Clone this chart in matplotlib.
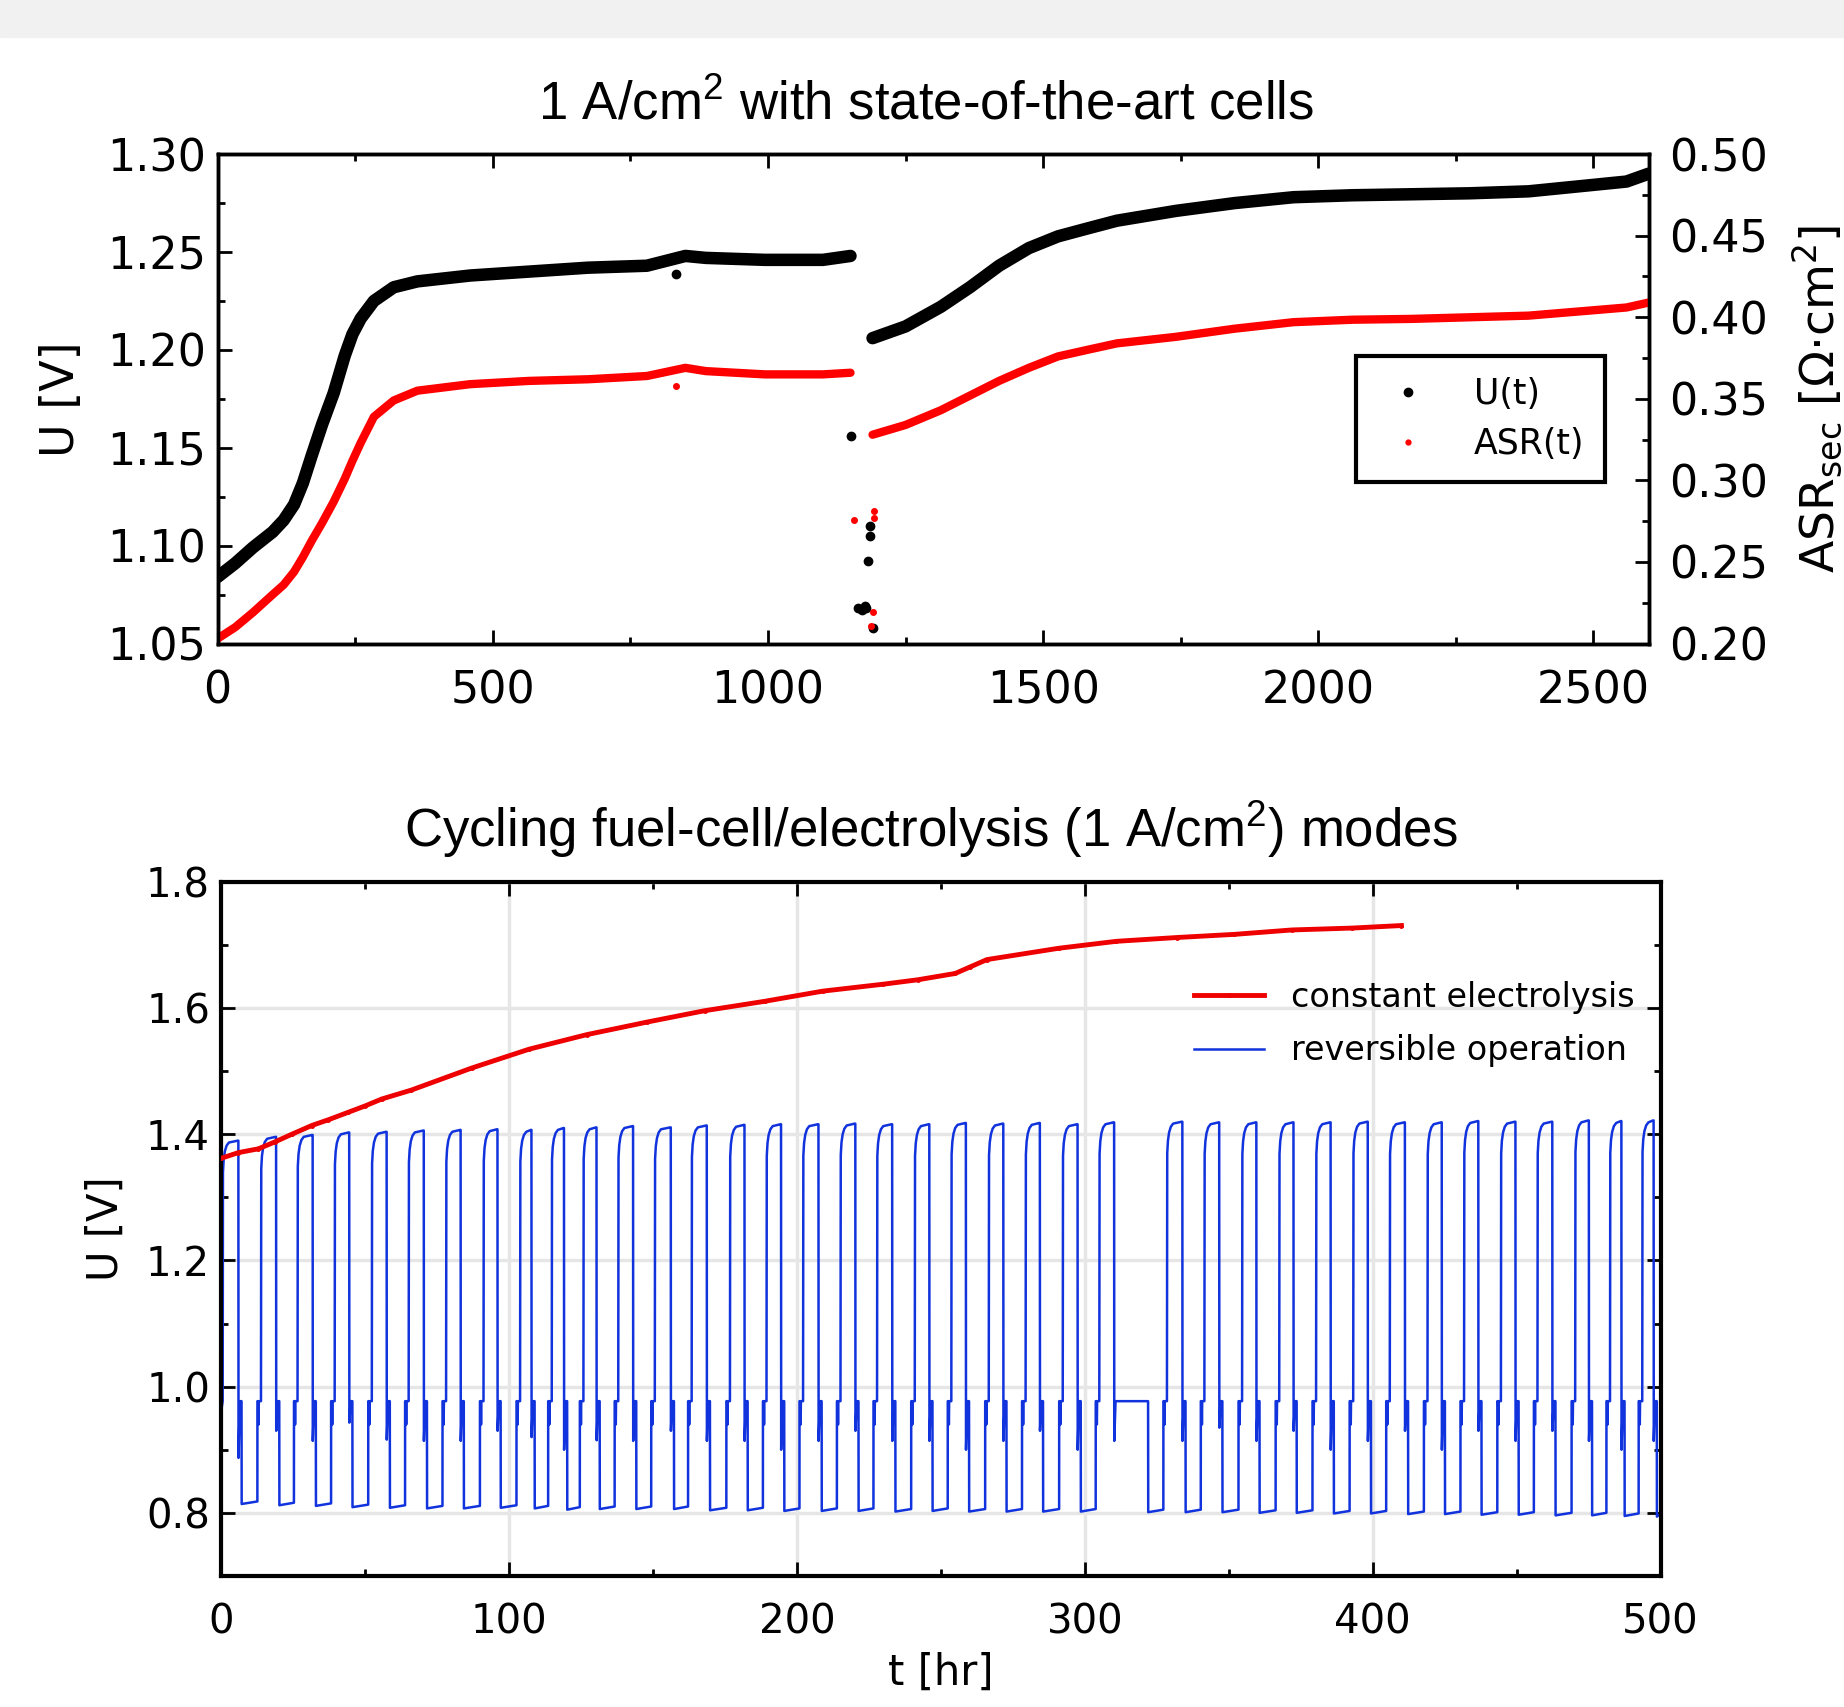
import matplotlib.pyplot as plt
from matplotlib.lines import Line2D
from matplotlib.patches import Rectangle
from matplotlib.ticker import MultipleLocator

# ---- top panel: 1 A/cm2, state-of-the-art cells ----
t_u = [0, 32, 64, 100, 120, 139, 155, 171, 190, 211, 231, 245, 260, 284, 320, 363, 459, 566, 673, 780, 850, 887,
       994, 1100, 1150,
       1190, 1250, 1314, 1367, 1420, 1474, 1527, 1580, 1634, 1741, 1848, 1955, 2062, 2169, 2275, 2382, 2489, 2560, 2600]
u_t = [1.084, 1.091, 1.099, 1.107, 1.113, 1.121, 1.132, 1.146, 1.162, 1.178, 1.197, 1.208, 1.216, 1.225, 1.232,
       1.235, 1.238, 1.240, 1.242, 1.243, 1.248, 1.247, 1.246, 1.246, 1.248,
       1.206, 1.212, 1.222, 1.232, 1.243, 1.252, 1.258, 1.262, 1.266, 1.271, 1.275, 1.278, 1.279, 1.2795, 1.280,
       1.281, 1.284, 1.286, 1.290]
asr_t = [0.203, 0.210, 0.219, 0.230, 0.236, 0.244, 0.253, 0.263, 0.274, 0.287, 0.301, 0.312, 0.323, 0.339, 0.349,
         0.355, 0.359, 0.361, 0.362, 0.364, 0.369, 0.367, 0.365, 0.365, 0.366,
         0.328, 0.334, 0.343, 0.352, 0.361, 0.369, 0.376, 0.380, 0.384, 0.388, 0.393, 0.397, 0.3985, 0.399, 0.400,
         0.401, 0.404, 0.406, 0.409]
gap_start = 25  # index where the second run starts

# stray points around the interruption
t_u_out = [833, 1150, 1164, 1170, 1176, 1179, 1181, 1186, 1186, 1190]
u_out = [1.2387, 1.156, 1.068, 1.067, 1.069, 1.068, 1.092, 1.105, 1.110, 1.058]
t_asr_out = [833, 1156, 1192, 1192, 1190, 1188]
asr_out = [0.358, 0.276, 0.277, 0.281, 0.2195, 0.211]

# ---- bottom panel: cycling fuel-cell / electrolysis ----
t_const = [0, 6, 12.9, 18.7, 24.5, 31.5, 37.2, 44.2, 50, 55.8, 66, 87, 107, 127, 148, 168, 189, 209, 230, 242,
           255, 260, 266, 291, 311, 332, 352, 372, 393, 410]
u_const = [1.362, 1.371, 1.377, 1.388, 1.400, 1.414, 1.423, 1.435, 1.445, 1.456, 1.470, 1.505, 1.535, 1.558, 1.578,
           1.596, 1.611, 1.627, 1.638, 1.645, 1.655, 1.665, 1.677, 1.695, 1.706, 1.712, 1.717, 1.724, 1.727, 1.731]

# per cycle: switch to electrolysis, switch back, peak voltage, fuel-cell voltage after
cyc_on = [-0.7, 12.6, 25.3, 38.2, 51.1, 63.9, 76.9, 89.9, 102.6, 113.6, 124.6, 136.7, 149.4, 162.2, 175.5,
          188.2, 200.9, 213.9, 226.6, 239.7, 252.4, 265.4, 278.2, 291.1, 303.8, 327.3, 340.3, 353.4, 366.3,
          379.1, 392.0, 404.7, 417.8, 430.5, 443.3, 456.0, 469.1, 481.2, 492.4]
cyc_off = [6.0, 19.1, 31.8, 44.5, 57.5, 70.4, 83.2, 96.0, 107.8, 119.1, 130.4, 143.1, 156.2, 168.7, 181.8,
           194.5, 207.5, 220.3, 233.1, 246.0, 258.7, 271.7, 284.4, 297.5, 310.2, 333.9, 346.7, 359.6, 372.5,
           385.4, 398.3, 411.2, 424.0, 436.7, 449.6, 462.4, 475.1, 486.4, 497.6]
cyc_peak = [1.390, 1.396, 1.399, 1.403, 1.404, 1.406, 1.407, 1.408, 1.407, 1.410, 1.411, 1.413, 1.411, 1.414,
            1.415, 1.416, 1.416, 1.417, 1.416, 1.416, 1.418, 1.417, 1.418, 1.416, 1.419, 1.420, 1.419, 1.419,
            1.419, 1.419, 1.420, 1.419, 1.419, 1.421, 1.420, 1.420, 1.422, 1.421, 1.422]
cyc_low = [0.818, 0.816, 0.815, 0.813, 0.812, 0.811, 0.811, 0.812, 0.811, 0.809, 0.810, 0.810, 0.810, 0.808,
           0.808, 0.807, 0.807, 0.807, 0.806, 0.807, 0.806, 0.806, 0.806, 0.806, 0.805, 0.805, 0.805, 0.804,
           0.804, 0.803, 0.803, 0.802, 0.802, 0.801, 0.801, 0.800, 0.800, 0.799, 0.798]
cyc_dip = [0.887, 0.930, 0.914, 0.943, 0.916, 0.914, 0.914, 0.930, 0.920, 0.900, 0.915, 0.914, 0.930, 0.914,
           0.914, 0.900, 0.914, 0.930, 0.914, 0.914, 0.900, 0.914, 0.930, 0.900, 0.914, 0.914, 0.935, 0.914,
           0.930, 0.900, 0.914, 0.930, 0.900, 0.930, 0.914, 0.930, 0.914, 0.900, 0.914]
hold_long = {24: 322.0}  # hold at ~0.975 V after cycle 25
u_oc = 0.977
u_notch = 0.94

rev_t, rev_u = [0.0], [0.96]
for i in range(len(cyc_on)):
    r, d, P, L = cyc_on[i], cyc_off[i], cyc_peak[i], cyc_low[i]
    prev_low = cyc_low[i - 1] if i > 0 else 0.96
    hold = hold_long.get(i, d + 1.1)
    seg = [(r, prev_low), (r + 0.02, u_oc), (r + 0.3, u_oc), (r + 0.4, u_notch), (r + 0.5, u_oc),
           (r + 1.25, u_oc), (r + 1.35, P - 0.05), (r + 1.6, P - 0.03), (r + 2.0, P - 0.017),
           (r + 2.6, P - 0.008), (r + 3.4, P - 0.003), (d - 0.2, P), (d, P), (d + 0.05, cyc_dip[i]),
           (d + 0.5, u_oc), (hold, u_oc), (hold + 0.05, L - 0.004)]
    for tt, uu in seg:
        if tt >= 0:
            rev_t.append(tt)
            rev_u.append(uu)
rev_t.append(500)
rev_u.append(cyc_low[-1])

fig = plt.figure(figsize=(18.44, 17.07), dpi=100)
fig.patches.append(Rectangle((0, 1 - 37 / 1707), 1, 37 / 1707, transform=fig.transFigure,
                             color='#f0f1f0', zorder=0))

title_font = dict(family='Liberation Sans', fontsize=38)

# top panel
ax1 = fig.add_axes([0.118, 0.623, 0.776, 0.2867])
ax2 = ax1.twinx()
ax1.plot(t_u[:gap_start], u_t[:gap_start], color='k', lw=9, solid_capstyle='round')
ax1.plot(t_u[gap_start:], u_t[gap_start:], color='k', lw=9, solid_capstyle='round')
ax1.plot(t_u_out, u_out, 'o', color='k', ms=6)
ax2.plot(t_u[:gap_start], asr_t[:gap_start], color='#ff0000', lw=6, solid_capstyle='round')
ax2.plot(t_u[gap_start:], asr_t[gap_start:], color='#ff0000', lw=6, solid_capstyle='round')
ax2.plot(t_asr_out, asr_out, 'o', color='#ff0000', ms=4)

ax1.set_xlim(0, 2600)
ax1.set_ylim(1.05, 1.30)
ax2.set_ylim(0.20, 0.50)
ax1.xaxis.set_major_locator(MultipleLocator(500))
ax1.xaxis.set_minor_locator(MultipleLocator(250))
ax1.yaxis.set_major_locator(MultipleLocator(0.05))
ax1.yaxis.set_minor_locator(MultipleLocator(0.025))
ax2.yaxis.set_major_locator(MultipleLocator(0.05))
ax2.yaxis.set_minor_locator(MultipleLocator(0.025))
ax1.yaxis.set_major_formatter(plt.FormatStrFormatter('%.2f'))
ax2.yaxis.set_major_formatter(plt.FormatStrFormatter('%.2f'))
ax1.tick_params(which='both', direction='in', top=True, right=False, width=2)
ax1.tick_params(which='major', length=10, labelsize=32)
ax1.tick_params(which='minor', length=5)
ax1.tick_params(axis='x', pad=19)
ax1.tick_params(axis='y', pad=8)
ax2.tick_params(which='both', direction='in', width=2)
ax2.tick_params(which='major', length=10, labelsize=32, pad=15)
ax2.tick_params(which='minor', length=5)
for ax in (ax1, ax2):
    for s in ax.spines.values():
        s.set_linewidth(2.5)
ax1.set_ylabel('U [V]', fontsize=33, va='center')
ax1.yaxis.set_label_coords(-0.109, 0.5)
ax2.set_ylabel('ASR$_\\mathregular{sec}$ [Ω·cm$^\\mathregular{2}$]', fontsize=34, va='center')
ax2.yaxis.set_label_coords(1.118, 0.5)
fig.text(0.502, 1 - 119 / 1707, '1 A/cm$^\\mathregular{2}$ with state-of-the-art cells',
         ha='center', va='baseline', **title_font)
handles = [Line2D([], [], ls='', marker='o', color='k', ms=6),
           Line2D([], [], ls='', marker='o', color='#ff0000', ms=3.5)]
leg = ax2.legend(handles, ['U(t)', 'ASR(t)'], loc='upper left', bbox_to_anchor=(0.7954, 0.587),
                 borderaxespad=0, fontsize=25, handlelength=1.8, handletextpad=1.0, borderpad=0.6,
                 labelspacing=0.45, fancybox=False, framealpha=1, edgecolor='k')
leg.get_frame().set_linewidth(3)

# bottom panel
ax3 = fig.add_axes([0.1199, 0.0768, 0.7806, 0.4065])
ax3.plot(t_const, u_const, color='#ee0000', lw=3.5, marker='.', ms=5, label='constant electrolysis', zorder=3)
ax3.plot(rev_t, rev_u, color='#1133dd', lw=1.8, label='reversible operation', zorder=2)
ax3.set_xlim(0, 500)
ax3.set_ylim(0.7, 1.8)
ax3.xaxis.set_major_locator(MultipleLocator(100))
ax3.xaxis.set_minor_locator(MultipleLocator(50))
ax3.set_yticks([0.8, 1.0, 1.2, 1.4, 1.6, 1.8])
ax3.yaxis.set_minor_locator(MultipleLocator(0.1))
ax3.yaxis.set_major_formatter(plt.FormatStrFormatter('%.1f'))
ax3.grid(True, which='major', color='#e6e6e6', lw=2.5, zorder=0)
ax3.set_axisbelow(True)
ax3.tick_params(which='both', direction='in', top=True, right=True, width=2)
ax3.tick_params(which='major', length=10, labelsize=29)
ax3.tick_params(which='minor', length=5)
ax3.tick_params(axis='x', pad=19)
ax3.tick_params(axis='y', pad=8)
for s in ax3.spines.values():
    s.set_linewidth(3)
ax3.set_xlabel('t [hr]', fontsize=30)
ax3.xaxis.set_label_coords(0.5, -0.110)
ax3.set_ylabel('U [V]', fontsize=30, va='center')
ax3.yaxis.set_label_coords(-0.080, 0.5)
fig.text(0.505, 1 - 847 / 1707, 'Cycling fuel-cell/electrolysis (1 A/cm$^\\mathregular{2}$) modes',
         ha='center', va='baseline', **title_font)
ax3.legend(loc='upper left', bbox_to_anchor=(0.676, 0.858), borderaxespad=0, borderpad=0,
           frameon=False, fontsize=24, handlelength=2.1, handletextpad=0.8, labelspacing=0.62)

fig.savefig('out.png', dpi=100)
